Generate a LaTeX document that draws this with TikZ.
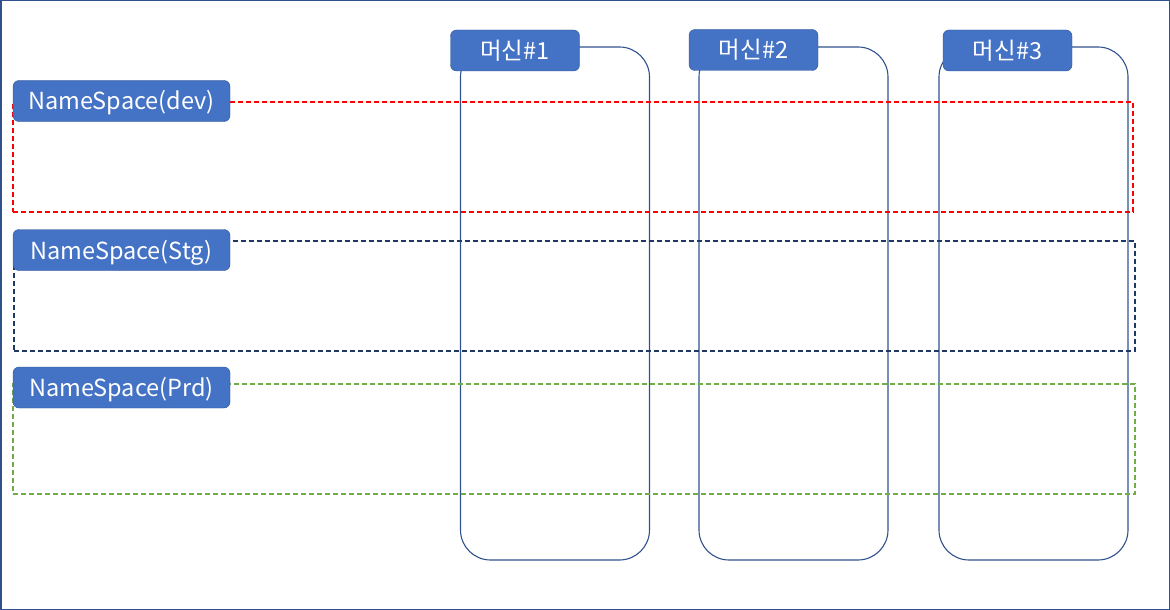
\documentclass[tikz,border=0pt]{standalone}
\usepackage{fontspec}
\setmainfont{Noto Sans CJK KR}
\usepackage{tikz}
\usetikzlibrary{positioning}
\definecolor{officeblue}{HTML}{4472C4}
\definecolor{navyline}{HTML}{2F528F}
\definecolor{stgline}{HTML}{203864}
\definecolor{prdline}{HTML}{70AD47}
\begin{document}
\begin{tikzpicture}[x=1pt, y=-1pt,
	tag/.style={draw=navyline, fill=officeblue, text=white, rounded corners=6pt, inner sep=0pt,
		minimum height=41pt, text height=18pt, text depth=0pt, font=\fontsize{23.5}{26}\selectfont},
	machine/.style={draw=navyline, line width=1.1pt, rounded corners=30pt, inner sep=0pt,
		minimum width=189pt, minimum height=513pt},
	nsarea/.style={line width=1.3pt, dash pattern=on 5pt off 3pt, inner sep=0pt}]
	\useasboundingbox (0,0) rectangle (1170,610);
	\draw[navyline, line width=1.5pt] (0.75,0.75) rectangle (1169.25,609.25);
	\coordinate (m1c) at (555,303.5);
	\coordinate (m2c) at (793.5,303.5);
	\coordinate (m3c) at (1033.5,303.5);
	% machines
	\node[machine] (m1box) at (m1c) {};
	\node[machine] (m2box) at (m2c) {};
	\node[machine] (m3box) at (m3c) {};
	% namespaces
	\node[nsarea, draw=red, minimum width=1120pt, minimum height=110pt] (devarea) at (573,157) {};
	\node[nsarea, draw=stgline, minimum width=1121pt, minimum height=110pt] (stgarea) at (574.5,296) {};
	\node[nsarea, draw=prdline, minimum width=1122pt, minimum height=110pt] (prdarea) at (574,439) {};
	% labels
	\node[tag, minimum width=217pt] (devtag) at (121.5,101) {NameSpace(dev)};
	\node[tag, minimum width=217pt] (stgtag) at (121.5,250) {NameSpace(Stg)};
	\node[tag, minimum width=217pt] (prdtag) at (121.5,387.5) {NameSpace(Prd)};
	\node[tag, minimum width=129pt] (m1tag) at (515,50.5) {머신\#1};
	\node[tag, minimum width=129pt] (m2tag) at (753.5,50) {머신\#2};
	\node[tag, minimum width=129pt] (m3tag) at (1007.5,50.5) {머신\#3};
\end{tikzpicture}
\end{document}
